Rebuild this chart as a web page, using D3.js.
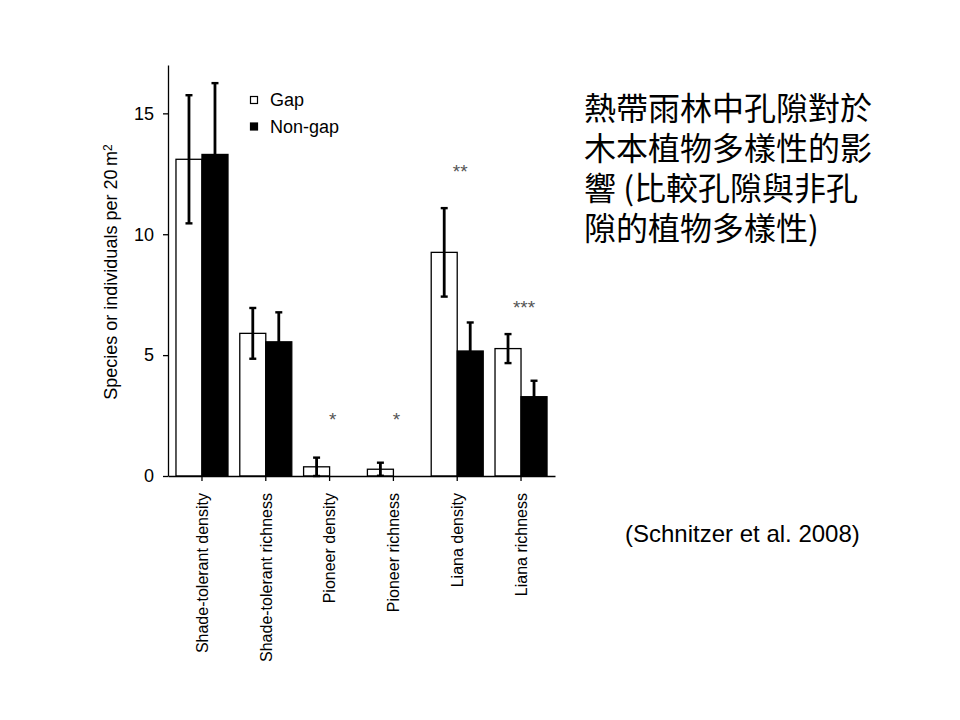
<!DOCTYPE html>
<html>
<head>
<meta charset="utf-8">
<title>Gap vs non-gap</title>
<script src="https://d3js.org/d3.v7.min.js"></script>
<style>
  body { margin: 0; background: #fff; }
  svg text { font-family: "Liberation Sans", Arial, sans-serif; }
</style>
</head>
<body>
<div id="chart"></div>
<script>
// data
var categories = ["Shade-tolerant density", "Shade-tolerant richness", "Pioneer density",
                  "Pioneer richness", "Liana density", "Liana richness"];
var gapMean   = [13.1, 5.9, 0.38, 0.28, 9.25, 5.27];
var gapErr    = [2.65, 1.05, 0.38, 0.27, 1.83, 0.6];
var nonGapMean = [13.3, 5.55, 0, 0, 5.17, 3.28];
var nonGapErr  = [2.95, 1.22, 0, 0, 1.18, 0.66];
var signif = ["", "", "*", "*", "**", "***"];
var signifAt = [0, 0, 2.52, 2.52, 12.78, 7.15];   // height of the stars, in axis units
var yTicks = [0, 5, 10, 15];
var titleLines = ["熱帶雨林中孔隙對於", "木本植物多樣性的影", "響 (比較孔隙與非孔", "隙的植物多樣性)"];

var W = 960, H = 720;
var svg = d3.select("#chart").append("svg")
    .attr("width", W).attr("height", H);

var x = d3.scaleBand()
    .domain(categories)
    .range([168, 555])
    .paddingInner(0.185)
    .paddingOuter(0.125);

var xSub = d3.scaleBand()
    .domain(["gap", "nongap"])
    .range([0, x.bandwidth()]);

var y = d3.scaleLinear()
    .domain([0, 17])
    .range([476, 65]);

var rows = categories.map(function (c, i) {
    return [
        { cat: c, key: "gap", value: gapMean[i], err: gapErr[i] },
        { cat: c, key: "nongap", value: nonGapMean[i], err: nonGapErr[i] }
    ];
});

// bars
var groups = svg.append("g")
    .selectAll("g")
    .data(rows)
    .enter().append("g")
    .attr("transform", function (d) { return "translate(" + x(d[0].cat) + ",0)"; });

groups.selectAll("rect")
    .data(function (d) { return d.filter(function (b) { return b.value > 0; }); })
    .enter().append("rect")
    .attr("x", function (d) { return xSub(d.key); })
    .attr("y", function (d) { return y(d.value); })
    .attr("width", xSub.bandwidth())
    .attr("height", function (d) { return y(0) - y(d.value); })
    .attr("fill", function (d) { return d.key === "gap" ? "#fff" : "#000"; })
    .attr("stroke", "#000")
    .attr("stroke-width", 1.3);

// error bars
var eb = groups.selectAll("g.err")
    .data(function (d) { return d.filter(function (b) { return b.err > 0; }); })
    .enter().append("g")
    .attr("class", "err")
    .attr("transform", function (d) { return "translate(" + (xSub(d.key) + xSub.bandwidth() / 2) + ",0)"; });

eb.append("line")
    .attr("x1", 0).attr("x2", 0)
    .attr("y1", function (d) { return y(d.value + d.err); })
    .attr("y2", function (d) { return y(Math.max(0, d.value - d.err)); })
    .attr("stroke", "#000").attr("stroke-width", 2.8);
eb.append("line")
    .attr("x1", -3.5).attr("x2", 3.5)
    .attr("y1", function (d) { return y(d.value + d.err); })
    .attr("y2", function (d) { return y(d.value + d.err); })
    .attr("stroke", "#000").attr("stroke-width", 2.4);
eb.append("line")
    .attr("x1", -3.5).attr("x2", 3.5)
    .attr("y1", function (d) { return y(Math.max(0, d.value - d.err)); })
    .attr("y2", function (d) { return y(Math.max(0, d.value - d.err)); })
    .attr("stroke", "#000").attr("stroke-width", 2.4);

// significance stars
svg.append("g")
    .selectAll("text")
    .data(categories)
    .enter().append("text")
    .attr("x", function (d) { return x(d) + x.bandwidth() / 2 + 3; })
    .attr("y", function (d, i) { return y(signifAt[i]) + 11; })
    .attr("text-anchor", "middle")
    .attr("fill", "#555")
    .style("font-size", "19px")
    .text(function (d, i) { return signif[i]; });

// axes
var yAxis = svg.append("g")
    .attr("transform", "translate(168,0)")
    .call(d3.axisLeft(y).tickValues(yTicks).tickSize(5).tickSizeOuter(0).tickPadding(9));
yAxis.select(".domain").attr("stroke-width", 1.3);
yAxis.selectAll(".tick line").attr("stroke-width", 1.3);
yAxis.selectAll("text").style("font-size", "18px").attr("font-family", null);

var xAxis = svg.append("g")
    .attr("transform", "translate(0,476)")
    .call(d3.axisBottom(x).tickSize(5).tickSizeOuter(0));
xAxis.select(".domain").attr("stroke-width", 1.3);
xAxis.selectAll(".tick line").attr("stroke-width", 1.3);
xAxis.selectAll("text")
    .attr("font-family", null)
    .style("font-size", "16px")
    .style("text-anchor", "end")
    .attr("transform", "rotate(-90)")
    .attr("x", -17)
    .attr("y", 0)
    .attr("dy", "0.36em");

// y label
svg.append("text")
    .attr("transform", "translate(117,272) rotate(-90)")
    .attr("text-anchor", "middle")
    .style("font-size", "18px")
    .text("Species or individuals per 20\u2009m")
    .append("tspan")
    .attr("dy", "-0.45em")
    .style("font-size", "12px")
    .text("2");

// legend
var legend = svg.append("g");
var legendItems = [{ label: "Gap", fill: "#fff" }, { label: "Non-gap", fill: "#000" }];
legend.selectAll("rect")
    .data(legendItems)
    .enter().append("rect")
    .attr("x", 250.5)
    .attr("y", function (d, i) { return 96.5 + i * 26.5; })
    .attr("width", 7).attr("height", 7)
    .attr("fill", function (d) { return d.fill; })
    .attr("stroke", "#000").attr("stroke-width", 1.2);
legend.selectAll("text")
    .data(legendItems)
    .enter().append("text")
    .attr("x", 270)
    .attr("y", function (d, i) { return 106 + i * 26.5; })
    .style("font-size", "18px")
    .text(function (d) { return d.label; });

// title block, one text with a line per tspan
svg.append("text")
    .attr("y", 120)
    .style("font-family", "'Noto Sans CJK TC', 'Noto Sans CJK SC', sans-serif")
    .style("font-size", "32px")
    .selectAll("tspan")
    .data(titleLines)
    .enter().append("tspan")
    .attr("x", 584)
    .attr("y", function (d, i) { return 120 + i * 40; })
    .text(function (d) { return d; });

svg.append("text")
    .attr("x", 625)
    .attr("y", 542)
    .style("font-size", "24px")
    .text("(Schnitzer et al. 2008)");
</script>
</body>
</html>
